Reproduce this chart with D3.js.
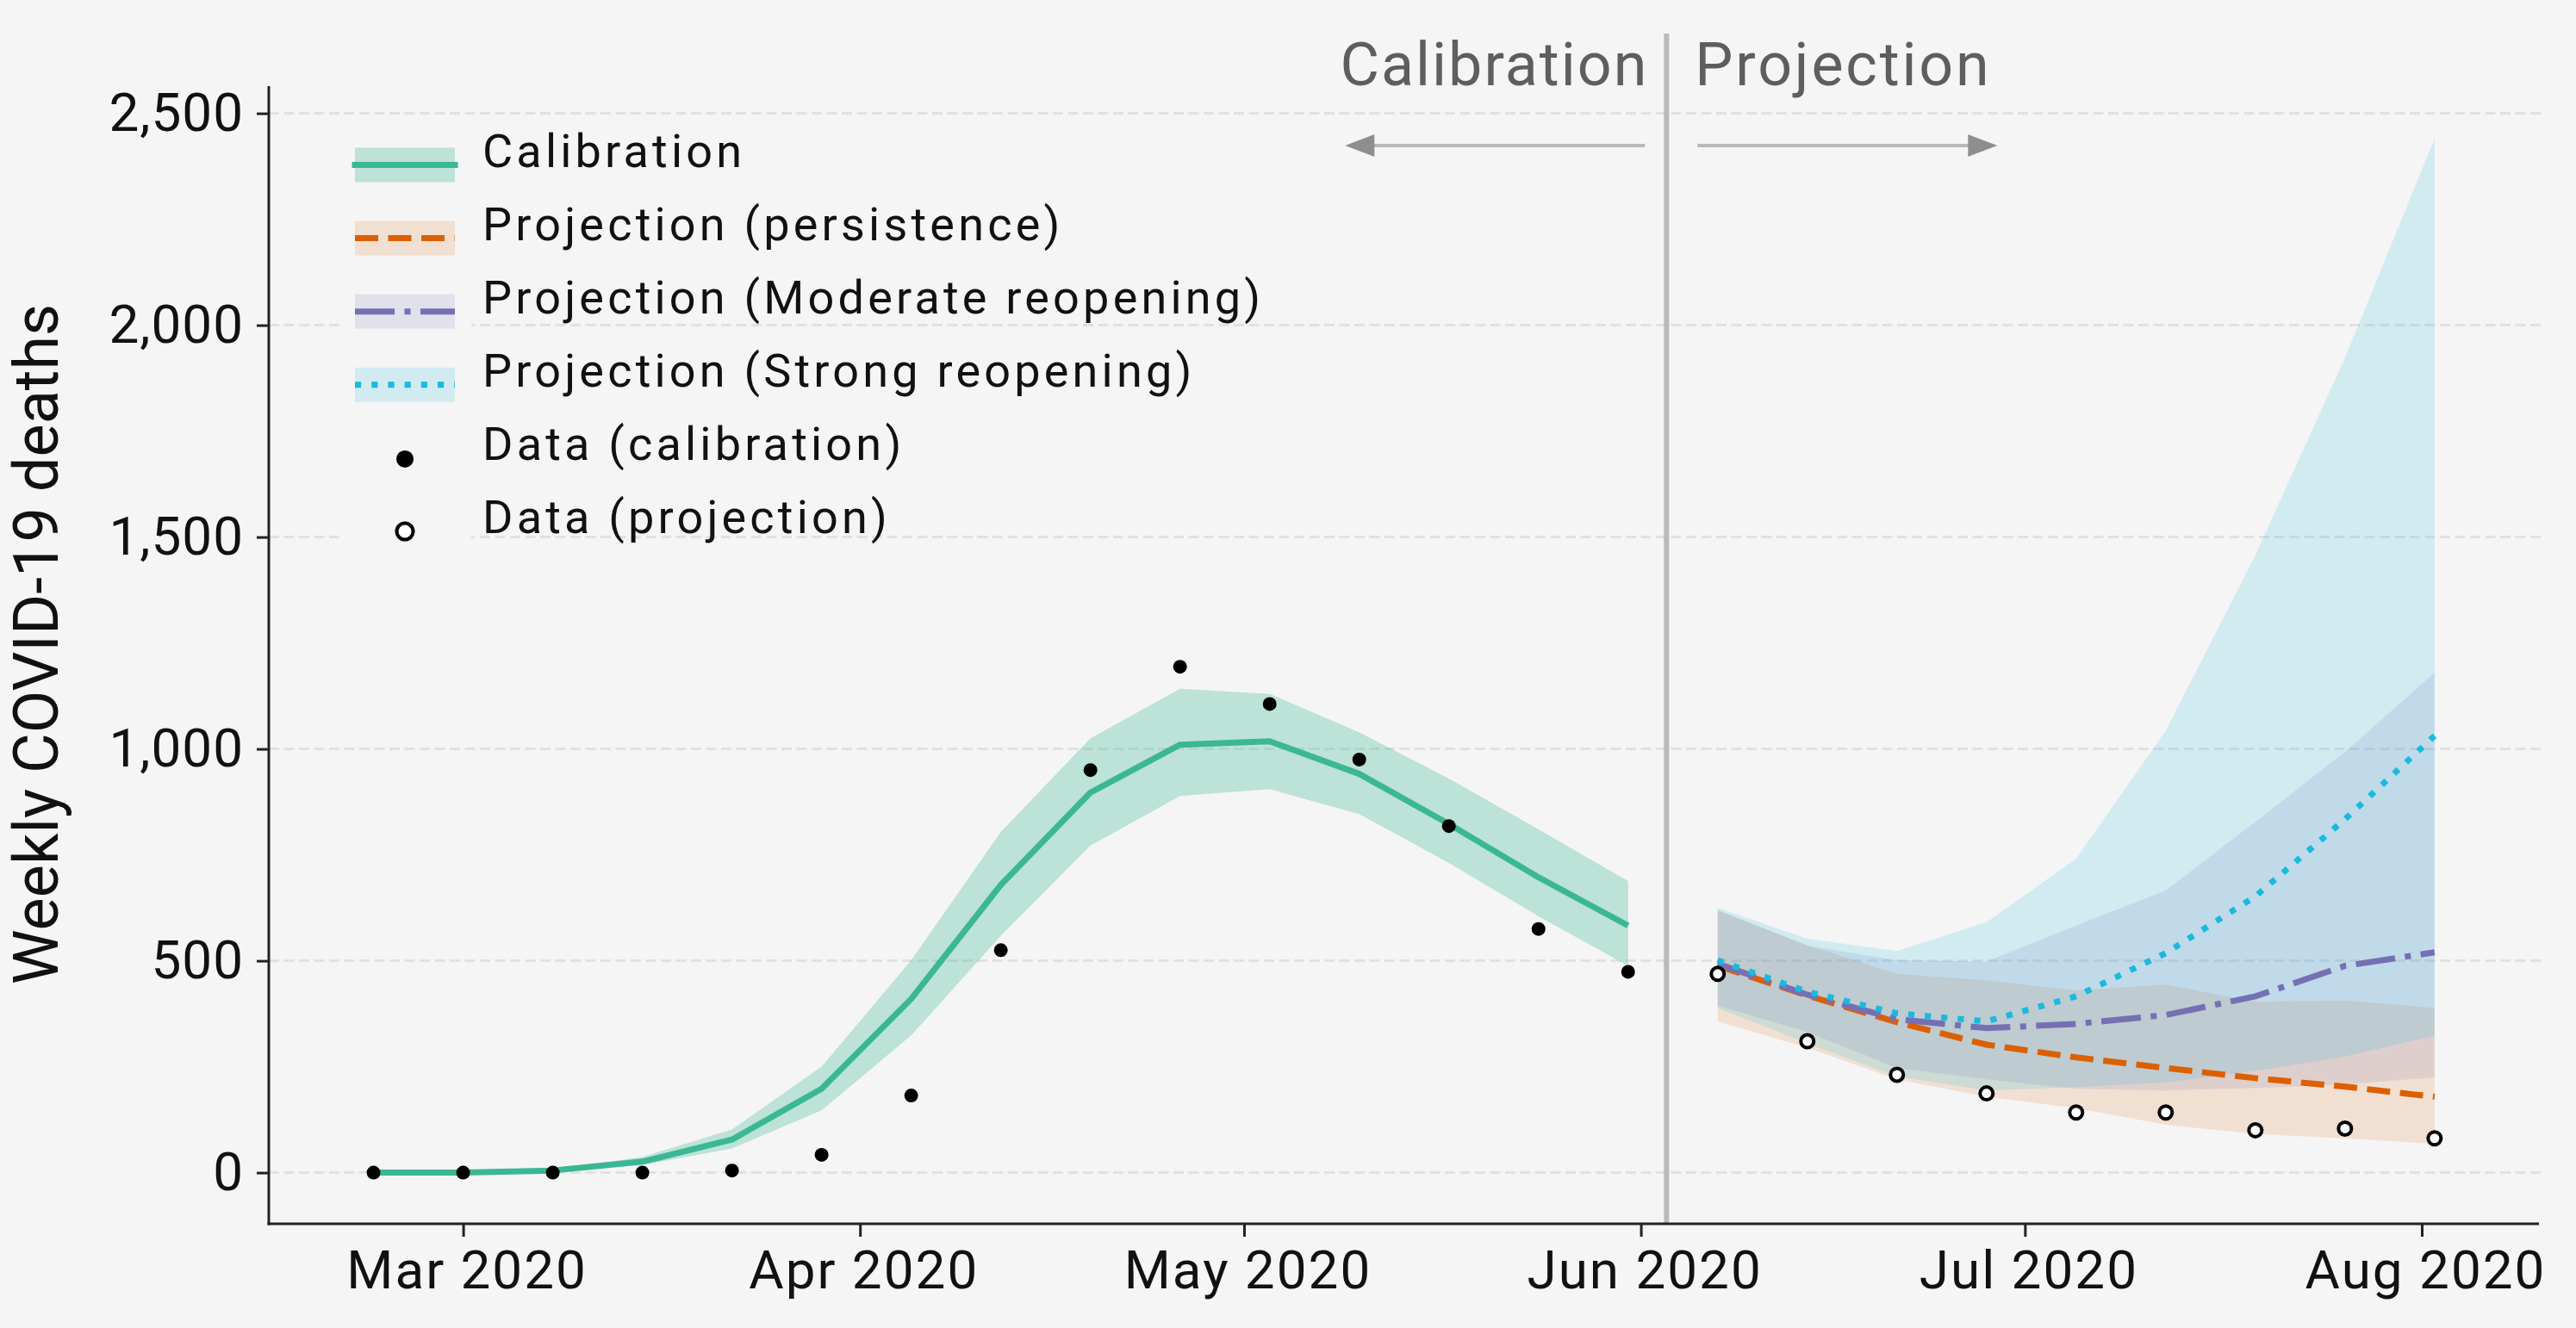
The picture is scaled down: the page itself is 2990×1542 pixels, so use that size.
<!DOCTYPE html>
<html><head><meta charset="utf-8">
<script src="https://cdn.jsdelivr.net/npm/d3@7"></script>
<style>
html,body{margin:0;padding:0;background:#f5f5f5;}
svg{display:block;}
text{font-family:Roboto,"Noto Sans",sans-serif;}
</style>
</head><body>
<svg id="chart" width="2990" height="1542"></svg>
<script>
// ---------- DATA ----------
const calDates = ["2020-02-23","2020-03-01","2020-03-08","2020-03-15","2020-03-22","2020-03-29","2020-04-05","2020-04-12","2020-04-19","2020-04-26","2020-05-03","2020-05-10","2020-05-17","2020-05-24","2020-05-31"];
const calData   = [0,0,0,0,5,42,182,525,950,1194,1106,975,818,575,474];
const calMedian = [0,0,5,26,78,198,410,679,897,1010,1018,941,823,697,583];
const calLower  = [0,0,3,18,57,147,324,559,772,889,905,846,731,605,488];
const calUpper  = [0,0,8,37,102,250,501,804,1025,1142,1130,1039,930,810,688];

const projDates = ["2020-06-07","2020-06-14","2020-06-21","2020-06-28","2020-07-05","2020-07-12","2020-07-19","2020-07-26","2020-08-02"];
const projData  = [469,310,231,187,142,142,100,104,81];
const persMedian = [488,418,355,302,272,247,223,203,179];
const persLower  = [357,295,220,179,152,113,91,81,68];
const persUpper  = [618,537,469,454,430,444,403,406,389];
const modMedian  = [493,420,362,341,351,372,416,488,520];
const modLower   = [394,332,247,220,198,194,200,208,225];
const modUpper   = [620,536,501,498,583,666,828,993,1180];
const strMedian  = [501,427,376,357,416,518,652,834,1031];
const strLower   = [389,305,227,194,202,213,240,274,323];
const strUpper   = [625,552,523,591,741,1043,1457,1923,2440];

const splitDate = "2020-06-03";
const yTicks = [0,500,1000,1500,2000,2500];
const xTicks = ["2020-03-01","2020-04-01","2020-05-01","2020-06-01","2020-07-01","2020-08-01"];
const legendLabels = ["Calibration","Projection (persistence)","Projection (Moderate reopening)","Projection (Strong reopening)","Data (calibration)","Data (projection)"];
const yLabel = "Weekly COVID-19 deaths";
const phaseLabels = ["Calibration","Projection"];

// ---------- STYLE ----------
const BG = "#f5f5f5";
const C = {cal:"#3bb794", pers:"#dc6002", mod:"#7570b3", str:"#1abadd"};
const FONT = 'Roboto,"Noto Sans",sans-serif';

const parse = d3.timeParse("%Y-%m-%d");
const svg = d3.select("#chart");
svg.append("rect").attr("width",2990).attr("height",1542).attr("fill",BG);

const plotL = 312, plotR = 2950, plotT = 100, plotB = 1421;
const x = d3.scaleTime().domain([parse("2020-03-01"), parse("2020-08-01")]).range([537.6, 2811]);
const y = d3.scaleLinear().domain([0,2500]).range([1361.6,131.6]);

// gridlines
svg.append("g").selectAll("line").data(yTicks).join("line")
  .attr("x1",plotL).attr("x2",plotR).attr("y1",d=>y(d)).attr("y2",d=>y(d))
  .attr("stroke","#e1e1e1").attr("stroke-width",3).attr("stroke-dasharray","12 5.5");

const mk = (dates, arrs) => dates.map((d,i)=>{const o={date:parse(d)}; for(const k in arrs) o[k]=arrs[k][i]; return o;});
const cal = mk(calDates,{v:calData,m:calMedian,lo:calLower,hi:calUpper});
const proj = mk(projDates,{v:projData,pm:persMedian,pl:persLower,pu:persUpper,mm:modMedian,ml:modLower,mu:modUpper,sm:strMedian,sl:strLower,su:strUpper});

const area = (lo,hi)=>d3.area().x(d=>x(d.date)).y0(d=>y(d[lo])).y1(d=>y(d[hi]));
const line = (k)=>d3.line().x(d=>x(d.date)).y(d=>y(d[k]));

const g = svg.append("g");
g.append("path").datum(cal).attr("d",area("lo","hi")).attr("fill",C.cal).attr("fill-opacity",0.3);
g.append("path").datum(proj).attr("d",area("pl","pu")).attr("fill",C.pers).attr("fill-opacity",0.14);
g.append("path").datum(proj).attr("d",area("ml","mu")).attr("fill",C.mod).attr("fill-opacity",0.15);
g.append("path").datum(proj).attr("d",area("sl","su")).attr("fill",C.str).attr("fill-opacity",0.16);

const LW = 7;
g.append("path").datum(cal).attr("d",line("m")).attr("fill","none").attr("stroke",C.cal).attr("stroke-width",LW).attr("stroke-linejoin","round");
g.append("path").datum(proj).attr("d",line("pm")).attr("fill","none").attr("stroke",C.pers).attr("stroke-width",LW).attr("stroke-dasharray","27 11.5");
g.append("path").datum(proj).attr("d",line("mm")).attr("fill","none").attr("stroke",C.mod).attr("stroke-width",LW).attr("stroke-dasharray","46 11.5 7 11.5");
g.append("path").datum(proj).attr("d",line("sm")).attr("fill","none").attr("stroke",C.str).attr("stroke-width",LW).attr("stroke-dasharray","7.2 12");

g.append("g").selectAll("circle").data(cal).join("circle")
  .attr("cx",d=>x(d.date)).attr("cy",d=>y(d.v)).attr("r",8).attr("fill","#000");
g.append("g").selectAll("circle").data(proj).join("circle")
  .attr("cx",d=>x(d.date)).attr("cy",d=>y(d.v)).attr("r",7.5).attr("fill","#fff").attr("stroke","#000").attr("stroke-width",4);

// divider + phase labels + arrows
const xs = x(parse(splitDate));
svg.append("line").attr("x1",xs).attr("x2",xs).attr("y1",39).attr("y2",plotB).attr("stroke","#bababa").attr("stroke-width",6);
svg.append("text").attr("x",xs-21).attr("y",99).attr("text-anchor","end").attr("font-size",70).attr("letter-spacing",2)
  .attr("fill","#5e5e5e").text(phaseLabels[0]);
svg.append("text").attr("x",xs+33).attr("y",99).attr("text-anchor","start").attr("font-size",70).attr("letter-spacing",2.8)
  .attr("fill","#5e5e5e").text(phaseLabels[1]);
const ay = 169;
svg.append("line").attr("x1",xs-25).attr("x2",xs-342).attr("y1",ay).attr("y2",ay).attr("stroke","#b8b8b8").attr("stroke-width",4);
svg.append("path").attr("d",`M${xs-373},${ay} L${xs-339},${ay-13} L${xs-339},${ay+13} Z`).attr("fill","#8e8e8e");
svg.append("line").attr("x1",xs+36).attr("x2",xs+354).attr("y1",ay).attr("y2",ay).attr("stroke","#b8b8b8").attr("stroke-width",4);
svg.append("path").attr("d",`M${xs+384},${ay} L${xs+350},${ay-13} L${xs+350},${ay+13} Z`).attr("fill","#8e8e8e");

// axes
const yAxis = svg.append("g").attr("transform",`translate(${plotL},0)`)
  .call(d3.axisLeft(y).tickValues(yTicks).tickFormat(d3.format(",")).tickSize(14).tickPadding(15));
const xAxis = svg.append("g").attr("transform",`translate(0,${plotB})`)
  .call(d3.axisBottom(x).tickValues(xTicks.map(parse)).tickFormat(d3.timeFormat("%b %Y")).tickSize(15).tickPadding(16));
[yAxis,xAxis].forEach(a=>{
  a.select(".domain").remove();
  a.selectAll(".tick line").attr("stroke","#222").attr("stroke-width",3);
  a.selectAll(".tick text").attr("fill","#111").attr("font-size",62).attr("font-family",FONT).attr("letter-spacing",1);
});
xAxis.selectAll(".tick text").attr("letter-spacing",2).attr("dx",4);
svg.append("line").attr("x1",plotL).attr("x2",plotL).attr("y1",plotT).attr("y2",plotB+1.5).attr("stroke","#222").attr("stroke-width",3);
svg.append("line").attr("x1",plotL-1.5).attr("x2",plotR-3).attr("y1",plotB).attr("y2",plotB).attr("stroke","#222").attr("stroke-width",3);

svg.append("text").attr("transform","translate(67,748) rotate(-90)").attr("text-anchor","middle")
  .attr("font-size",72).attr("fill","#111").text(yLabel);

// legend
const lg = svg.append("g");
lg.append("rect").attr("x",396).attr("y",150).attr("width",151).attr("height",500).attr("fill",BG);
const hx0 = 412, hx1 = 528, tx = 560;
legendLabels.forEach((lab,i)=>{
  const cy = 191.5 + i*85.1;
  const cols = [C.cal,C.pers,C.mod,C.str];
  if(i<4){
    lg.append("rect").attr("x",hx0).attr("y",cy-20).attr("width",hx1-hx0).attr("height",40)
      .attr("fill",cols[i]).attr("fill-opacity",[0.3,0.14,0.15,0.16][i]);
    const ln = lg.append("line").attr("x1",hx0).attr("x2",hx1).attr("y1",cy).attr("y2",cy)
      .attr("stroke",cols[i]).attr("stroke-width",LW);
    if(i===0) ln.attr("x1",hx0-3.5).attr("x2",hx1+3.5);
    if(i===1) ln.attr("stroke-dasharray","27 11.5");
    if(i===2) ln.attr("stroke-dasharray","46 11.5 7 11.5");
    if(i===3) ln.attr("stroke-dasharray","7.2 12");
  } else if(i===4){
    lg.append("circle").attr("cx",(hx0+hx1)/2).attr("cy",cy+1).attr("r",10).attr("fill","#000");
  } else {
    lg.append("circle").attr("cx",(hx0+hx1)/2).attr("cy",cy).attr("r",9.5).attr("fill","#fff").attr("stroke","#000").attr("stroke-width",4);
  }
  lg.append("text").attr("x",tx).attr("y",cy+2).attr("font-size",54).attr("letter-spacing",4.2).attr("fill","#111").text(lab);
});
</script>
</body></html>
